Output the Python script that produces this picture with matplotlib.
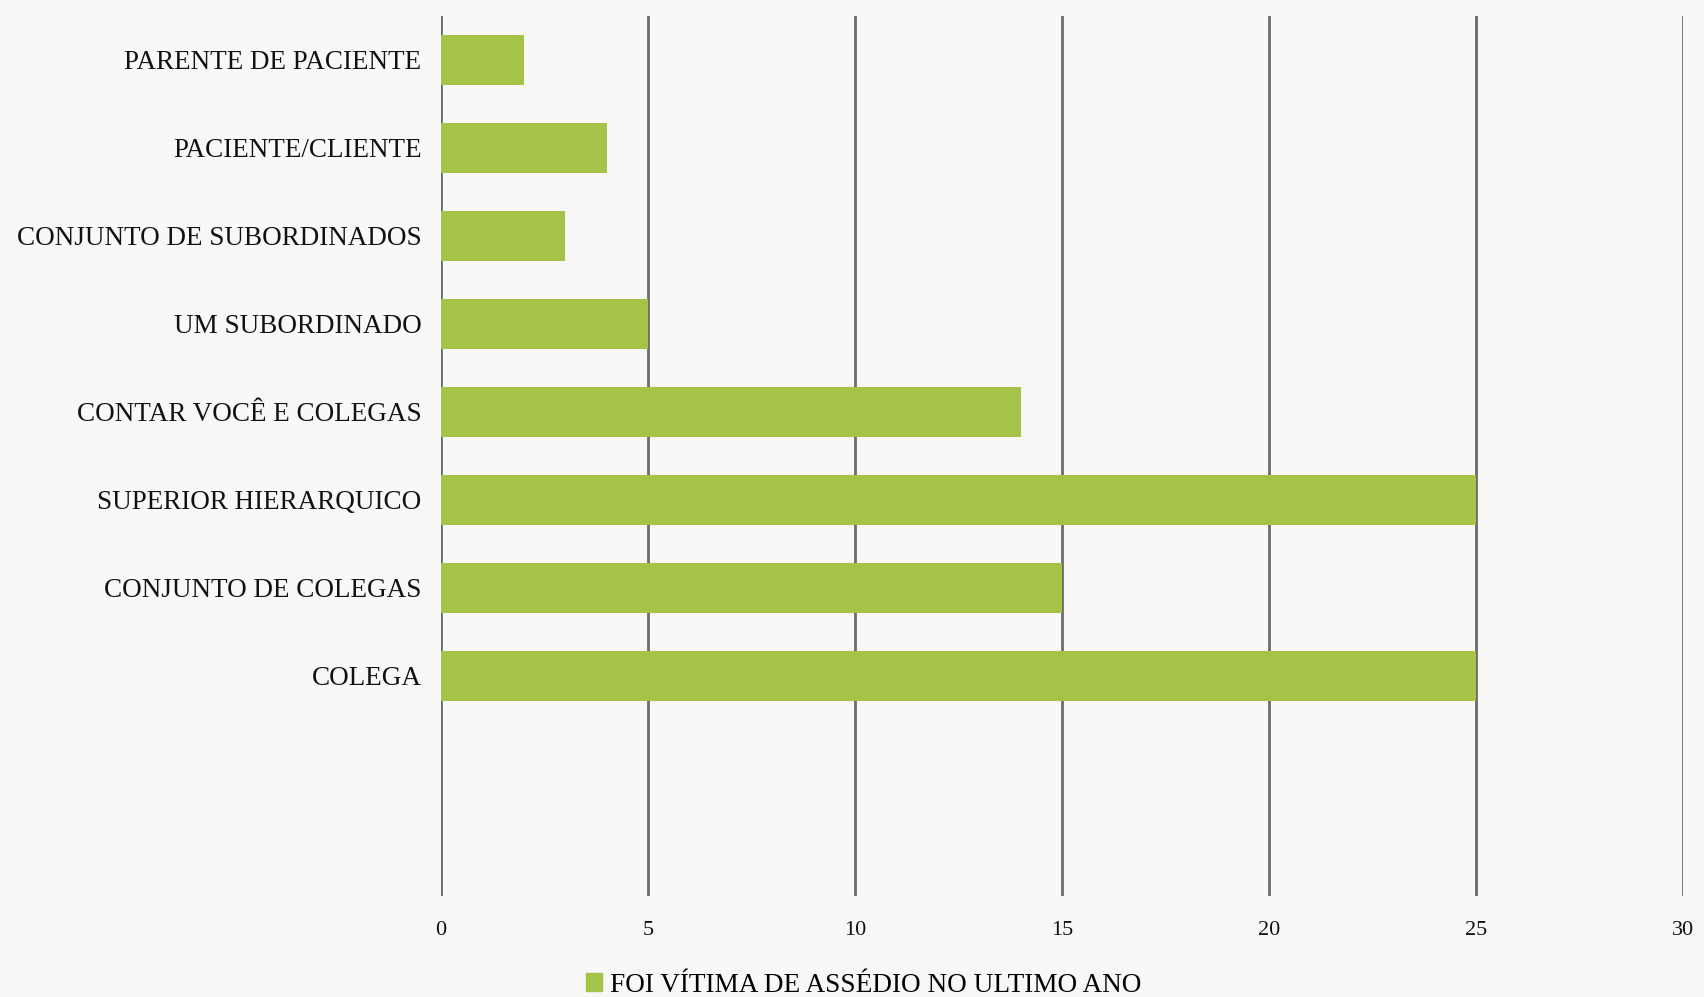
import matplotlib
matplotlib.use("Agg")
import matplotlib.pyplot as plt
from matplotlib.patches import Patch

categories = [
    "COLEGA",
    "CONJUNTO DE COLEGAS",
    "SUPERIOR HIERARQUICO",
    "CONTAR VOCÊ E COLEGAS",
    "UM SUBORDINADO",
    "CONJUNTO DE SUBORDINADOS",
    "PACIENTE/CLIENTE",
    "PARENTE DE PACIENTE",
]
values = [25, 15, 25, 14, 5, 3, 4, 2]
xticks = [0, 5, 10, 15, 20, 25, 30]
series_name = "FOI VÍTIMA DE ASSÉDIO NO ULTIMO ANO"

bar_color = "#a5c249"
bg = "#f8f8f7"
plt.rcParams["font.family"] = ["Liberation Serif", "DejaVu Serif"]


def main():
    fig = plt.figure(figsize=(17.04, 9.97), dpi=100, facecolor=bg)
    ax = fig.add_axes([0.2588, 0.1013, 0.7289, 0.8827])
    ax.set_facecolor(bg)

    pos = list(range(len(categories)))
    ax.barh(pos, values, height=0.57, color=bar_color, zorder=3)

    ax.set_xlim(0, 30)
    ax.set_ylim(-2.5, 7.5)
    ax.set_xticks(xticks)
    ax.set_xticklabels([str(t) for t in xticks], fontsize=16, color="#111111")
    ax.set_yticks(pos)
    ax.set_yticklabels(categories, fontsize=19.5, color="#111111")
    ax.tick_params(axis="x", length=0, pad=18)
    ax.tick_params(axis="y", length=0, pad=14)
    ax.grid(axis="x", color="#6b6b6b", linewidth=2, zorder=1)
    for s in ax.spines.values():
        s.set_visible(False)

    fig.legend(handles=[Patch(color=bar_color, label=series_name)],
               loc="center", bbox_to_anchor=(0.507, 0.012), frameon=False,
               fontsize=19.6, handlelength=0.6, handleheight=0.6,
               handletextpad=0.3, borderpad=0)

    fig.savefig("out.png", dpi=100, facecolor=bg)


if __name__ == "__main__":
    main()
